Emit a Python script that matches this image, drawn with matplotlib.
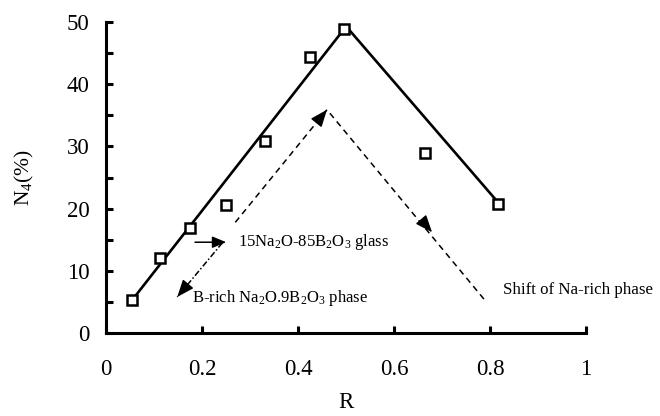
import numpy as np
import matplotlib.pyplot as plt
from matplotlib.ticker import MultipleLocator, FormatStrFormatter

plt.rcParams["font.family"] = ["Liberation Serif", "DejaVu Serif"]
plt.rcParams["mathtext.fontset"] = "custom"
plt.rcParams["mathtext.rm"] = "Liberation Serif"
plt.rcParams["mathtext.it"] = "Liberation Serif:italic"

# measured N4 fraction vs R
R = [0.054, 0.113, 0.175, 0.25, 0.331, 0.425, 0.496, 0.665, 0.817]
N4 = [5.3, 12.0, 16.9, 20.6, 30.9, 44.4, 48.9, 28.9, 20.7]

# guide line through the trend (rise, maximum, fall)
trend_R = [0.054, 0.5, 0.82]
trend_N4 = [5.3, 49.3, 20.7]

fig = plt.figure(figsize=(6.6, 4.16), dpi=100)
ax = fig.add_axes([0.161, 0.1995, 0.727, 0.7475])

ax.plot(trend_R, trend_N4, color="black", lw=1.9, zorder=2)
ax.plot(R, N4, ls="none", marker="s", ms=7.5, mfc="white", mec="black",
        mew=1.8, zorder=3)

dashed = (0, (4, 3))
dashdot = (0, (4, 1.5, 1, 1.5))


def head(tip, start, scale=15):
    # solid arrow head at tip, pointing away from start
    tip = np.array(tip)
    start = np.array(start)
    back = tip - 0.02 * (tip - start) / np.hypot(*((tip - start) * [1, 0.02]))
    ax.annotate("", xy=tip, xytext=back,
                arrowprops=dict(arrowstyle="-|>,head_length=0.7,head_width=0.28",
                                color="black", lw=1.0, shrinkA=0, shrinkB=0,
                                mutation_scale=scale))


# dashed path of the Na-rich phase
ax.plot([0.269, 0.46, 0.792], [17.8, 35.9, 5.0], color="black", lw=1.1,
        ls=dashed)
head((0.46, 35.9), (0.269, 17.8))
head((0.679, 16.2), (0.46, 35.9))

# dash-dot arrow towards the B-rich phase
ax.plot([0.242, 0.148], [14.5, 5.8], color="black", lw=1.1, ls=dashdot)
head((0.148, 5.8), (0.242, 14.5))

# solid arrow towards the glass label
ax.annotate("", xy=(0.25, 14.6), xytext=(0.185, 14.6),
            arrowprops=dict(arrowstyle="-|>,head_length=0.6,head_width=0.25",
                            color="black", lw=1.1, shrinkA=0, shrinkB=0,
                            mutation_scale=14))

ax.text(0.275, 14.6, r"15Na$_2$O-85B$_2$O$_3$ glass", fontsize=12,
        va="center", ha="left")
ax.text(0.179, 5.6, r"B-rich Na$_2$O.9B$_2$O$_3$ phase", fontsize=12,
        va="center", ha="left")
ax.text(0.827, 6.9, "Shift of Na-rich phase", fontsize=12.2,
        va="center", ha="left")

ax.set_xlim(0, 1)
ax.set_ylim(0, 50)
ax.xaxis.set_major_locator(MultipleLocator(0.2))
ax.xaxis.set_major_formatter(FormatStrFormatter("%g"))
ax.yaxis.set_major_locator(MultipleLocator(10))
ax.yaxis.set_minor_locator(MultipleLocator(5))

for side in ("top", "right"):
    ax.spines[side].set_visible(False)
for side in ("left", "bottom"):
    ax.spines[side].set_linewidth(2.2)

ax.tick_params(axis="x", direction="in", length=5, width=2.2, pad=19,
               labelsize=16.5)
ax.tick_params(axis="y", which="both", direction="in", length=5, width=2.2,
               pad=12, labelsize=16.5)
ax.set_xlabel("R", fontsize=16.5, labelpad=8)
ax.set_ylabel(r"N$_4$(%)", fontsize=15.5, labelpad=22)

fig.savefig("out.png", dpi=100)
